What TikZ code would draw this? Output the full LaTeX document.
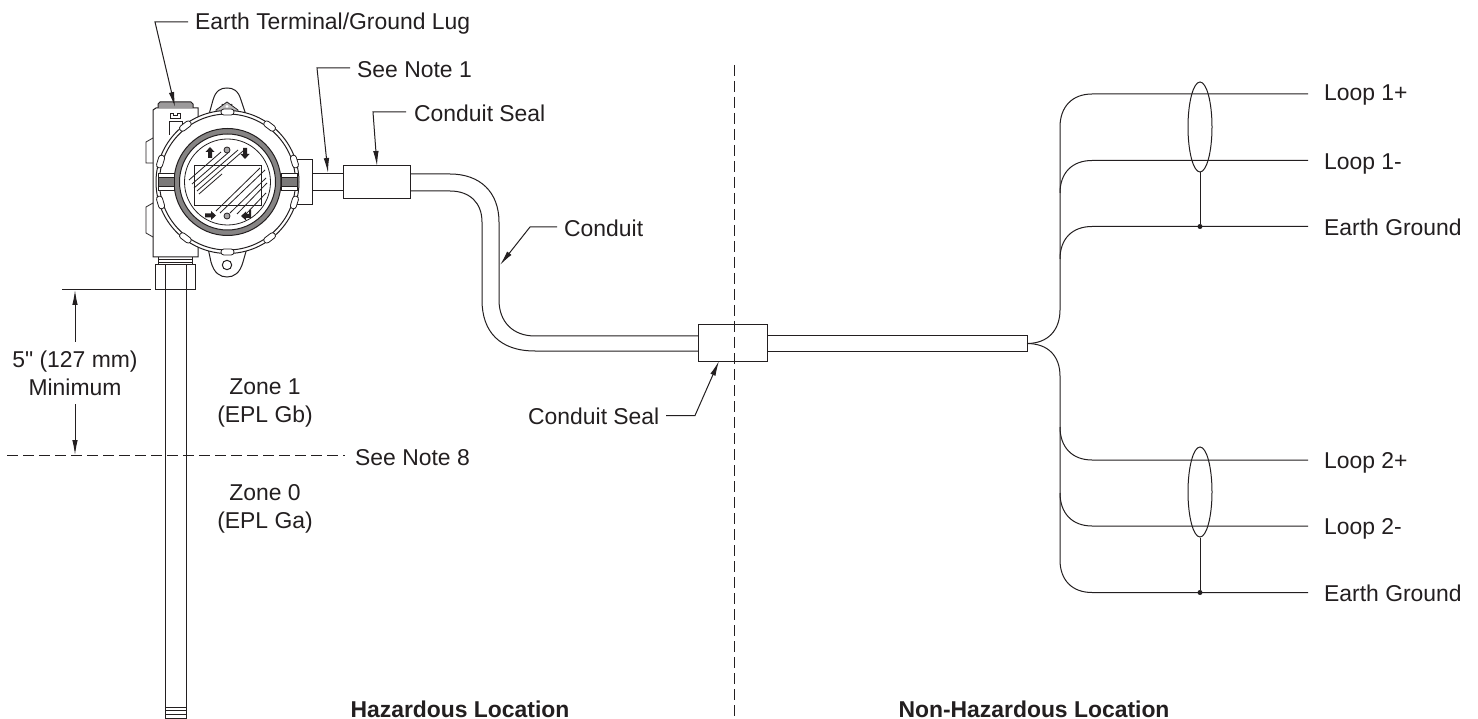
\documentclass[tikz,border=0pt]{standalone}
\usepackage{fontspec}
\setmainfont{Liberation Sans}
\newfontfamily\plainf{Liberation Sans}
\usetikzlibrary{arrows.meta,shapes.geometric}
\definecolor{ink}{HTML}{231F20}
\tikzset{
  base/.style={draw=ink,line width=1pt},
  thin line/.style={draw=ink,line width=0.8pt},
  lab/.style={inner sep=0pt,text=ink,font=\fontsize{22.9}{26}\selectfont},
  llab/.style={lab,anchor=base west},
  clab/.style={lab,anchor=base,align=center},
  blab/.style={lab,anchor=base,font=\fontsize{22.9}{26}\selectfont\bfseries},
  leader/.style={base,-{Latex[length=15pt,width=5.5pt]}},
  dash line/.style={base,dash pattern=on 11pt off 5pt},
  bolt/.style={draw=ink,fill=white,line width=0.8pt,rounded corners=2.8pt},
}
\begin{document}
\begin{tikzpicture}[x=1pt,y=-1pt]
\useasboundingbox (0,0) rectangle (1478,719);
\fill[white] (0,0) rectangle (1478,719);
% dashed zone lines
\coordinate (vtop) at (734,65); \coordinate (vbot) at (734,719);
\coordinate (hleft) at (7,455.5); \coordinate (hright) at (345,455.5);
\draw[dash line] (hleft) -- (hright);
% stem
\draw[base] (165,290) -- (165,718) -- (186,718) -- (186,290);
\draw[thin line] (165,707) -- (186,707) (165,710.5) -- (186,710.5) (165,714) -- (186,714);
% gland
\draw[base] (155,265) rectangle (195,290);
\draw[thin line] (165,265) -- (165,290) (186,265) -- (186,290);
\draw[base] (158,257) -- (158,265) (192,257) -- (192,265);
\draw[thin line] (158,259.5) -- (192,259.5) (158,262) -- (192,262);
% body
\draw[base,fill=white] (153,257) -- (153,110) -- (156,108) -- (198,108) -- (198,257) -- cycle;
\draw[base,fill=ink!45] (158,108) -- (158,104) -- (160,102) -- (191,102) -- (193,104) -- (193,108);
\draw[thin line,fill=white] (169,135) -- (169,121) -- (182,121) -- (182,135);
\draw[thin line,fill=white] (170,113) -- (170,118) -- (180,118) -- (180,113) -- (177,113) -- (177,115) -- (173,115) -- (173,113) -- cycle;
\draw[thin line] (153,138) -- (146,142) -- (146,163) -- (153,163);
\draw[thin line] (153,203) -- (146,207) -- (146,233) -- (153,237);
% lugs
\draw[base,fill=white] (208,118) -- (213,100) .. controls (216,90) and (221,88) .. (227,88) .. controls (233,88) and (238,90) .. (241,100) -- (247,118) -- cycle;
\draw[base] (222,104) arc[start angle=180,end angle=0,radius=5] ;
\draw[thin line,fill=ink!30] (216,110) -- (227,102) -- (238,110) -- (238,114) -- (216,114) -- cycle;
\fill[white] (227,106.5) circle (1.5);
\draw[base,fill=white] (208,248) -- (211,262) .. controls (214,273) and (220,277) .. (227,277) .. controls (234,277) and (240,273) .. (243,262) -- (247,248) -- cycle;
\draw[base] (227,265) circle (4.7);
% right boss + conduit
\draw[base,fill=white] (290,160) -- (312,160) -- (312,205) -- (290,205);
\coordinate (cA) at (312,174); \coordinate (cB) at (312,191);
\node[base,fill=white,minimum width=67pt,minimum height=33pt,inner sep=0pt] (sealA) at (376.5,182.5) {};
\draw[base] (cA) -- (sealA.west|-cA) (cB) -- (sealA.west|-cB);
\draw[base] (sealA.east|-cA) -- (450,174) .. controls (480,174) and (499,192) .. (499,222) -- (499,300) .. controls (499,322) and (513,336) .. (535,336) -- (698,336);
\draw[base] (sealA.east|-cB) -- (450,191) .. controls (470,191) and (482,203) .. (482,222) -- (482,300) .. controls (482,332) and (500,351) .. (535,351) -- (698,351);
\node[base,fill=white,minimum width=69pt,minimum height=36pt,inner sep=0pt] (sealB) at (732.5,343) {};
\draw[dash line] (vtop) -- (vbot);
% cable
\coordinate (cabEnd) at (1027,343.5);
\draw[base] (767,336) -- (1027,336) -- (1027,351) -- (767,351);
% housing
\draw[base,fill=white] (227.5,182) circle (71.5);
\draw[base] (227.5,182) circle (68);
\draw[base,fill=ink!55] (227.5,182) circle (53.5);
\draw[base,fill=white] (227.5,182) circle (48);
\draw[thin line] (227.5,182) circle (43);
% bars
\draw[bolt,rounded corners=0pt] (158,173) rectangle (174,190);
\draw[thin line,fill=ink!60] (158,177) rectangle (174,186);
\draw[bolt,rounded corners=0pt] (281,173) rectangle (297,190);
\draw[thin line,fill=ink!60] (281,177) rectangle (297,186);
% bolts on ring
\foreach \a in {17,-17,53,-53,127,-127,163,-163,90,-90}{
  \draw[bolt,rotate around={\a:(227.5,182)}] (294.5,175.5) rectangle (300.5,188.5);
}
% display
\node[draw=ink,line width=1pt,fill=white,minimum width=67pt,minimum height=40pt,inner sep=0pt] (disp) at (227.5,186) {};
% hatching
\draw[thin line]
 (189,180) -- (221,152) (192,184) -- (229,152) (194,188) -- (238,150) (197,191) -- (243,151) (199,194) -- (222,174)
 (216,211) -- (260,168) (220,213) -- (265,170) (230,213) -- (266,178) (237,214) -- (267,183) (246,214) -- (266,193);
% icons
\fill[ink] (210,147) -- (214.5,152) -- (212,152) -- (212,158) -- (208,158) -- (208,152) -- (205.5,152) -- cycle;
\fill[ink] (245,159) -- (240.5,154) -- (243,154) -- (243,148) -- (247,148) -- (247,154) -- (249.5,154) -- cycle;
\fill[ink] (216,215.5) -- (211,211) -- (211,213.5) -- (205,213.5) -- (205,217.5) -- (211,217.5) -- (211,220) -- cycle;
\fill[ink] (241,216) -- (246,211.5) -- (246,214) -- (249,214) -- (249,210) -- (251,210) -- (251,218) -- (246,218) -- (246,220.5) -- cycle;
\draw[thin line,fill=ink!40] (227,150) circle (3) (227,216) circle (3);
% wires
\coordinate (wtop) at (1060,127);
\draw[base] (cabEnd) .. controls (1048,343.5) and (1060,330) .. (1060,310) -- (wtop) .. controls (1060,107) and (1072,94) .. (1092,94) -- (1308,94);
\draw[base] (1060,193) .. controls (1060,173) and (1072,160.5) .. (1092,160.5) -- (1308,160.5);
\draw[base] (1060,259) .. controls (1060,239) and (1072,226.5) .. (1092,226.5) -- (1308,226.5);
\draw[base] (cabEnd) .. controls (1048,343.5) and (1060,356) .. (1060,376) -- (1060,560) .. controls (1060,580) and (1072,592.5) .. (1092,592.5) -- (1308,592.5);
\draw[base] (1060,427) .. controls (1060,447) and (1072,460) .. (1092,460) -- (1308,460);
\draw[base] (1060,493) .. controls (1060,513) and (1072,526) .. (1092,526) -- (1308,526);
% shields
\node[base,ellipse,minimum width=24pt,minimum height=90pt,inner sep=0pt] (sh1) at (1200,127) {};
\node[base,ellipse,minimum width=24pt,minimum height=90pt,inner sep=0pt] (sh2) at (1200,492) {};
\node[fill=ink,circle,minimum size=5pt,inner sep=0pt] (g1) at (1200,226.5) {};
\node[fill=ink,circle,minimum size=5pt,inner sep=0pt] (g2) at (1200,592.5) {};
\draw[base] (sh1.south) -- (g1);
\draw[base] (sh2.south) -- (g2);
% labels
\node[llab] (earth) at (195,30) {Earth Terminal/Ground Lug};
\node[llab] (n1) at (357,78) {See Note 1};
\node[llab] (cs1) at (414,122) {Conduit Seal};
\node[llab] (con) at (564,237) {Conduit};
\node[llab] (cs2) at (528,424) {Conduit Seal};
\node[llab] (n8) at (355,465) {See Note 8};
\node[llab] at (1324,101) {Loop 1+};
\node[llab] at (1324,170) {Loop 1-};
\node[llab] at (1324,236) {Earth Ground};
\node[llab] at (1324,468) {Loop 2+};
\node[llab] at (1324,534) {Loop 2-};
\node[llab] at (1324,601) {Earth Ground};
\node[clab] (dim1) at (75,367) {{\plainf 5"} (127 mm)};
\node[clab] (dim2) at (75,395) {Minimum};
\node[clab] at (265,394) {Zone 1};
\node[clab] at (265,422) {(EPL Gb)};
\node[clab] at (265,500) {Zone 0};
\node[clab] at (265,528) {(EPL Ga)};
\node[blab] at (460,717) {Hazardous Location};
\node[blab] at (1034,717) {Non-Hazardous Location};
% leaders
\coordinate (t1) at (175,107); \coordinate (t2) at (328,173); \coordinate (t3) at (377,166);
\coordinate (t4) at (500,265); \coordinate (t5) at (719,361);
\draw[leader] (188,22) -- (155,22) -- (t1);
\draw[leader] (350,68) -- (317,68) -- (t2);
\draw[leader] (406,112) -- (373,112) -- (t3);
\draw[leader] (557,227) -- (530,227) -- (t4);
\draw[leader] (666,415.5) -- (695,415.5) -- (t5);
% dimension
\coordinate (dt) at (75,290); \coordinate (db) at (75,455);
\draw[base] (62,290) -- (151,290);
\draw[leader] (75,342) -- (dt);
\draw[leader] (75,404) -- (db);
\end{tikzpicture}
\end{document}
